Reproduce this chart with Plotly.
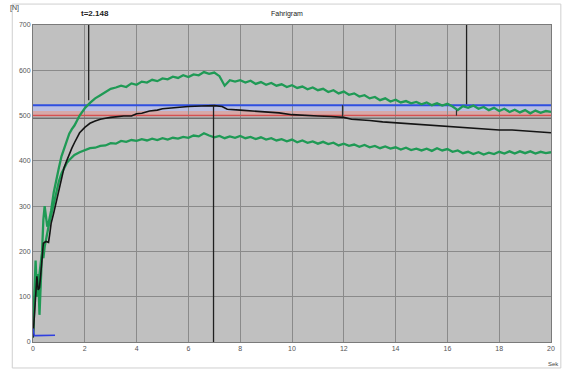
import numpy as np
import plotly.graph_objects as go

# ---- data ----
t_early = [0, 0.05, 0.1, 0.15, 0.2, 0.25, 0.3, 0.35, 0.4, 0.45, 0.5, 0.55, 0.6,
           0.7, 0.8, 0.9, 1.0, 1.1, 1.2, 1.3, 1.4, 1.5]
t_main = list(np.round(np.arange(1.6, 20.0001, 0.2), 2))
t_green = t_early + t_main

upper_green = [20, 120, 180, 110, 150, 60, 140, 230, 270, 300, 280, 255, 262,
               290, 330, 360, 385, 410, 428, 445, 460, 470,
               478, 500, 516, 528, 538, 545, 553, 559,
               562, 566, 563, 571, 568, 575, 573, 579, 576, 582,
               580, 586, 583, 589, 585, 591, 589, 596, 592, 595,
               587, 566, 578, 575, 578, 573, 577, 570, 574, 568,
               572, 566, 569, 563, 567, 561, 564, 558, 562, 556,
               559, 552, 556, 549, 553, 546, 549, 542, 545, 538,
               541, 534, 538, 531, 535, 529, 532, 527, 530, 525,
               529, 523, 527, 522, 526, 520, 512, 521, 517, 522,
               515, 519, 512, 517, 510, 515, 508, 513, 507, 512,
               505, 511, 506, 510, 508]

lower_green = [10, 80, 140, 100, 130, 150, 175, 195, 185, 210, 230, 240, 255,
               280, 305, 330, 355, 372, 385, 395, 402, 408,
               413, 419, 424, 428, 429, 433, 434, 439,
               438, 444, 442, 446, 444, 448, 445, 449, 446, 450,
               447, 451, 449, 453, 451, 456, 454, 461, 456, 452,
               455, 450, 454, 451, 455, 450, 453, 448, 452, 447,
               450, 445, 448, 443, 447, 441, 445, 440, 443, 438,
               442, 437, 440, 434, 438, 433, 436, 431, 435, 430,
               433, 428, 432, 427, 430, 425, 429, 424, 427, 423,
               427, 422, 428, 423, 426, 420, 423, 417, 420, 415,
               419, 414, 418, 415, 420, 416, 421, 416, 421, 417,
               421, 416, 420, 417, 419]

t_mean = [0, 0.05, 0.1, 0.15, 0.2, 0.25, 0.3, 0.35, 0.4, 0.5, 0.6, 0.65, 0.7,
          0.8, 0.9, 1.0, 1.1, 1.2, 1.3, 1.4, 1.5, 1.6, 1.8, 2.0, 2.2, 2.4, 2.6,
          2.8, 3.0, 3.5, 3.8, 4.0, 4.2, 4.5, 4.8, 5.0, 5.5, 6.0, 6.5, 7.0, 7.3,
          7.5, 8.0, 8.5, 9.0, 9.5, 10.0, 10.5, 11.0, 11.5, 12.0, 12.3, 12.6,
          13.0, 13.5, 14.0, 14.5, 15.0, 15.5, 16.0, 16.5, 17.0, 17.5, 18.0,
          18.5, 19.0, 19.5, 20.0]
mean_curve = [10, 60, 110, 145, 115, 120, 150, 190, 218, 222, 220, 240, 262,
              285, 310, 340, 365, 385, 400, 415, 428, 440, 462, 474, 483, 488,
              492, 494, 496, 499, 499, 504, 505, 510, 512, 515, 518, 520, 521,
              522, 520, 514, 512, 510, 508, 506, 502, 500, 499, 498, 496, 492,
              491, 489, 486, 484, 482, 480, 478, 475, 474, 472, 470, 468, 468,
              466, 463, 462]

t_blue = [0, 0.02, 0.05, 0.1, 0.85]
blue_small = [30, 18, 14, 14, 15]

limit_blue = 523
band_blue = [510, 523]
band_pink = [500, 510]
limit_red = 500
limit_gray = 494

cursor_t = [2.15, 6.97, 16.74]
cursor_lo = [534, 0, 525]
cursor_hi = [700, 523, 700]
short_t = [11.95, 16.35]
short_lo = [497, 500]
short_hi = [523, 512]

x_ticks = [0, 2, 4, 6, 8, 10, 12, 14, 16, 18, 20]
y_ticks = [0, 100, 200, 300, 400, 500, 600, 700]

title_text = "Fahrigram"
cursor_label = "t=2.148"
y_unit = "[N]"
x_unit = "Sek"

# ---- figure ----
fig = go.Figure()

shapes = []
shapes.append(dict(type="rect", xref="x", yref="y", x0=0, x1=20,
                   y0=band_blue[0], y1=band_blue[1], fillcolor="#b9bfe2",
                   line_width=0, layer="below"))
shapes.append(dict(type="rect", xref="x", yref="y", x0=0, x1=20,
                   y0=band_pink[0], y1=band_pink[1], fillcolor="#d6a9a9",
                   line_width=0, layer="below"))
# outer frame
shapes.append(dict(type="rect", xref="paper", yref="paper",
                   x0=-0.040, x1=1.019, y0=-0.082, y1=1.066,
                   line=dict(color="#cfcfcf", width=1), fillcolor="rgba(0,0,0,0)"))

fig.add_trace(go.Scatter(x=[0, 20], y=[limit_gray, limit_gray], mode="lines",
                         line=dict(color="#6e6e6e", width=1.5), hoverinfo="skip"))
fig.add_trace(go.Scatter(x=[0, 20], y=[limit_red, limit_red], mode="lines",
                         line=dict(color="#d65050", width=1.5), hoverinfo="skip"))
fig.add_trace(go.Scatter(x=[0, 20], y=[limit_blue, limit_blue], mode="lines",
                         line=dict(color="#2f4fe0", width=2), hoverinfo="skip"))

fig.add_trace(go.Scatter(x=t_green, y=upper_green, mode="lines",
                         line=dict(color="#1f9a55", width=2.3)))
fig.add_trace(go.Scatter(x=t_green, y=lower_green, mode="lines",
                         line=dict(color="#1f9a55", width=2.3)))
fig.add_trace(go.Scatter(x=t_mean, y=mean_curve, mode="lines",
                         line=dict(color="#141414", width=1.6)))
fig.add_trace(go.Scatter(x=t_blue, y=blue_small, mode="lines",
                         line=dict(color="#3040e0", width=1.6)))

for t, lo, hi in zip(cursor_t, cursor_lo, cursor_hi):
    fig.add_trace(go.Scatter(x=[t, t], y=[lo, hi], mode="lines",
                             line=dict(color="#202020", width=1.3), hoverinfo="skip"))
for t, lo, hi in zip(short_t, short_lo, short_hi):
    fig.add_trace(go.Scatter(x=[t, t], y=[lo, hi], mode="lines",
                             line=dict(color="#303030", width=1.2), hoverinfo="skip"))

annotations = [
    dict(text=title_text, xref="paper", yref="paper", x=0.49, y=1.015,
         xanchor="center", yanchor="bottom", showarrow=False,
         font=dict(size=7, color="#222")),
    dict(text="<b>" + cursor_label + "</b>", xref="x", yref="paper",
         x=2.4, y=1.015, xanchor="center", yanchor="bottom",
         showarrow=False, font=dict(size=8, color="#222")),
    dict(text=y_unit, xref="paper", yref="paper", x=-0.048, y=1.035,
         xanchor="left", yanchor="bottom", showarrow=False,
         font=dict(size=7, color="#444")),
    dict(text=x_unit, xref="paper", yref="paper", x=1.005, y=-0.055,
         xanchor="center", yanchor="top", showarrow=False,
         font=dict(size=6, color="#444")),
]

fig.update_layout(
    width=567, height=370,
    margin=dict(l=33, r=12, t=25, b=28),
    paper_bgcolor="white",
    plot_bgcolor="#c0c0c0",
    showlegend=False,
    shapes=shapes,
    annotations=annotations,
    font=dict(family="Liberation Sans, Arial, sans-serif", size=7, color="#555"),
)
fig.update_xaxes(range=[0, 20], tickvals=x_ticks, ticktext=[str(v) for v in x_ticks],
                 showgrid=True, gridcolor="#8a8a8a", gridwidth=1, zeroline=False,
                 showline=True, linecolor="#7a7a7a", mirror=True, ticks="",
                 tickfont=dict(size=7, color="#555"))
fig.update_yaxes(range=[0, 700], tickvals=y_ticks, ticktext=[str(v) for v in y_ticks],
                 showgrid=True, gridcolor="#8a8a8a", gridwidth=1, zeroline=False,
                 showline=True, linecolor="#7a7a7a", mirror=True, ticks="",
                 tickfont=dict(size=7, color="#555"))

fig.write_html("out.html", config={"displayModeBar": False},
               post_script="document.body.style.margin='0px';document.body.style.overflow='hidden';")
